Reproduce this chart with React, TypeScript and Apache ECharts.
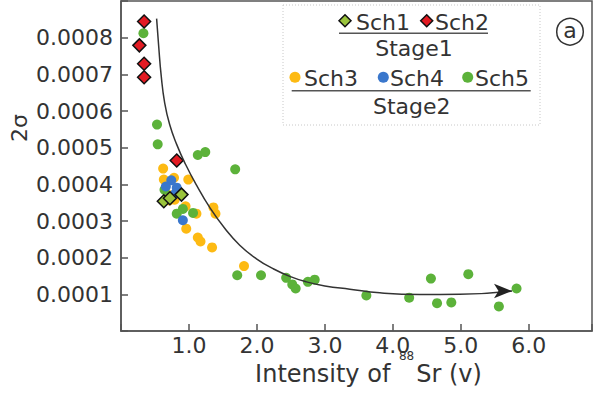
import React, { useEffect, useRef } from 'react';
import * as echarts from 'echarts';

const FONT = 'DejaVu Sans';
const TEXT = '#333';

// Stage 1
const sch1X = [0.63, 0.72, 0.89];
const sch1Y = [0.000354, 0.000362, 0.000372];
const sch2X = [0.34, 0.27, 0.34, 0.34, 0.82];
const sch2Y = [0.000844, 0.000779, 0.000729, 0.000692, 0.000465];

// Stage 2
const sch3X = [0.62, 0.63, 0.78, 0.99, 0.72, 0.79, 0.71, 0.95, 1.11, 1.36, 1.39, 0.96, 1.13, 1.17, 1.34, 1.81];
const sch3Y = [0.000443, 0.000413, 0.000418, 0.000413, 0.00037, 0.000358, 0.000356, 0.00034, 0.00032, 0.000337, 0.00032, 0.000279, 0.000255, 0.000244, 0.000228, 0.000177];
const sch4X = [0.74, 0.66, 0.82, 0.8, 0.91];
const sch4Y = [0.000411, 0.000394, 0.000391, 0.000375, 0.000302];
const sch5X = [0.33, 0.53, 0.54, 1.13, 1.24, 1.68, 0.64, 0.91, 0.82, 1.06, 1.71, 2.06, 2.43, 2.52, 2.57, 2.75, 2.85, 3.61, 4.24, 4.56, 4.65, 4.86, 5.11, 5.56, 5.82];
const sch5Y = [0.000812, 0.000563, 0.000509, 0.00048, 0.000488, 0.000441, 0.000385, 0.000333, 0.00032, 0.000322, 0.000152, 0.000152, 0.000145, 0.000127, 0.000116, 0.000134, 0.00014, 0.000097, 0.000091, 0.000143, 0.000076, 0.000078, 0.000155, 0.000067, 0.000116];

// Trend curve (hand-drawn arrow)
const curveX = [0.524, 0.554, 0.591, 0.642, 0.716, 0.819, 0.951, 1.113, 1.305, 1.526, 1.747, 1.993, 2.237, 2.483, 2.729, 2.999, 3.367, 3.809, 4.398, 4.987, 5.753];
const curveY = [0.000852, 0.000778, 0.000697, 0.000623, 0.000563, 0.000509, 0.000454, 0.000397, 0.000337, 0.00028, 0.000234, 0.000197, 0.00017, 0.000149, 0.000134, 0.000123, 0.000114, 0.000104, 0.0000995, 0.0001, 0.000109];

const xTickLabels = ['1.0', '2.0', '3.0', '4.0', '5.0', '6.0'];
const yTickLabels = ['0.0001', '0.0002', '0.0003', '0.0004', '0.0005', '0.0006', '0.0007', '0.0008'];

const C_YELLOW = '#FDBA13';
const C_BLUE = '#3A77CC';
const C_GREEN = '#5CB23A';
const C_RED = '#E31B23';
const C_LIME = '#9AC43C';

const zip = (xs: number[], ys: number[]) => xs.map((x, i) => [x, ys[i]]);

export default function App() {
  const ref = useRef<HTMLDivElement>(null);
  useEffect(() => {
    const chart = echarts.init(ref.current!, null, { renderer: 'svg' });
    const lastIdx = curveX.length - 1;
    const curveData = curveX.map((x, i) =>
      i === lastIdx
        ? { value: [x, curveY[i]], symbol: 'arrow', symbolSize: [11, 18], symbolRotate: -90, itemStyle: { color: '#222' } }
        : { value: [x, curveY[i]], symbol: 'none' }
    );
    const txt = (t: string, x: number, y: number, align: string = 'left') => ({
      type: 'text',
      x,
      y,
      style: { text: t, font: `22px "${FONT}"`, fill: TEXT, align, verticalAlign: 'middle' },
      z: 100,
    });
    const diamond = (cx: number, cy: number, color: string) => ({
      type: 'polygon',
      shape: { points: [[cx, cy - 6], [cx + 6, cy], [cx, cy + 6], [cx - 6, cy]] },
      style: { fill: color, stroke: '#111', lineWidth: 1.5 },
      z: 100,
    });
    const dot = (cx: number, cy: number, color: string) => ({
      type: 'circle',
      shape: { cx, cy, r: 5.5 },
      style: { fill: color },
      z: 100,
    });
    const option: any = {
      animation: false,
      backgroundColor: '#fff',
      grid: {
        left: 121,
        right: 1,
        top: 1,
        bottom: 64,
        containLabel: false,
        outerBoundsMode: 'none',
        show: true,
        borderColor: '#555',
        borderWidth: 1.5,
        backgroundColor: 'transparent',
      },
      xAxis: {
        type: 'value',
        min: 0,
        max: 6.93,
        interval: 1,
        splitLine: { show: false },
        axisLine: { show: true, lineStyle: { color: '#555', width: 1.5 } },
        axisTick: { show: true, inside: true, length: 7, lineStyle: { color: '#555', width: 1.5 } },
        axisLabel: {
          margin: 3,
          fontFamily: FONT,
          fontSize: 22,
          color: TEXT,
          formatter: (v: number) => {
            const i = Math.round(v) - 1;
            return Math.abs(v - Math.round(v)) < 1e-6 && i >= 0 && i < xTickLabels.length ? xTickLabels[i] : '';
          },
        },
        name: '{a|Intensity of }{s|88}{a|Sr (v)}',
        nameLocation: 'middle',
        nameGap: 19,
        nameMoveOverlap: false,
        nameTextStyle: {
          padding: [0, 0, 0, 24],
          rich: {
            a: { fontFamily: FONT, fontSize: 24, color: TEXT, verticalAlign: 'top', lineHeight: 40, padding: [12, 0, 0, 0] },
            s: { fontFamily: FONT, fontSize: 12, color: TEXT, verticalAlign: 'top', lineHeight: 14, padding: [0, 2, 0, 1] },
          },
        },
      },
      yAxis: {
        type: 'value',
        min: 0,
        max: 0.0009,
        interval: 0.0001,
        splitLine: { show: false },
        axisLine: { show: true, lineStyle: { color: '#555', width: 1.5 } },
        axisTick: { show: true, inside: true, length: 7, lineStyle: { color: '#555', width: 1.5 } },
        axisLabel: {
          margin: 8,
          fontFamily: FONT,
          fontSize: 22,
          color: TEXT,
          formatter: (v: number) => {
            const i = Math.round(v * 10000) - 1;
            return i >= 0 && i < yTickLabels.length ? yTickLabels[i] : '';
          },
        },
        name: '2σ',
        nameLocation: 'middle',
        nameRotate: 90,
        nameGap: 91,
        nameMoveOverlap: false,
        nameTextStyle: { fontFamily: FONT, fontSize: 22, color: TEXT, padding: [0, 0, 0, 76] },
      },
      series: [
        {
          name: 'Sch3',
          type: 'scatter',
          data: zip(sch3X, sch3Y),
          symbol: 'circle',
          symbolSize: 10,
          itemStyle: { color: C_YELLOW, opacity: 1 },
          z: 2,
        },
        {
          name: 'Sch5',
          type: 'scatter',
          data: zip(sch5X, sch5Y),
          symbol: 'circle',
          symbolSize: 10,
          itemStyle: { color: C_GREEN, opacity: 1 },
          z: 2,
        },
        {
          name: 'Sch4',
          type: 'scatter',
          data: zip(sch4X, sch4Y),
          symbol: 'circle',
          symbolSize: 10,
          itemStyle: { color: C_BLUE, opacity: 1 },
          z: 2,
        },
        {
          name: 'Sch1',
          type: 'scatter',
          data: zip(sch1X, sch1Y),
          symbol: 'diamond',
          symbolSize: 13,
          itemStyle: { color: C_LIME, borderColor: '#111', borderWidth: 1.5, opacity: 1 },
          z: 3,
        },
        {
          name: 'Sch2',
          type: 'scatter',
          data: zip(sch2X, sch2Y),
          symbol: 'diamond',
          symbolSize: 13,
          itemStyle: { color: C_RED, borderColor: '#111', borderWidth: 1.5, opacity: 1 },
          z: 3,
        },
        {
          name: 'trend',
          type: 'line',
          data: curveData,
          smooth: 0.5,
          showSymbol: true,
          symbol: 'none',
          lineStyle: { color: '#333', width: 1.5 },
          itemStyle: { color: '#222' },
          z: 4,
          silent: true,
        },
      ],
      graphic: [
        {
          type: 'rect',
          shape: { x: 283, y: 5, width: 257, height: 120 },
          style: { fill: 'none', stroke: '#c8c8c8', lineWidth: 1, lineDash: [1, 2] },
          z: 99,
        },
        diamond(345, 20.7, C_LIME),
        txt('Sch1', 356, 22),
        diamond(426.7, 20.7, C_RED),
        txt('Sch2', 435, 22),
        {
          type: 'line',
          shape: { x1: 339, y1: 33.3, x2: 488, y2: 33.3 },
          style: { stroke: '#555', lineWidth: 1.5 },
          z: 100,
        },
        txt('Stage1', 414, 48, 'center'),
        dot(295, 77.3, C_YELLOW),
        txt('Sch3', 304, 78),
        dot(383.3, 77.3, C_BLUE),
        txt('Sch4', 390, 78),
        dot(467.7, 77.3, C_GREEN),
        txt('Sch5', 475, 78),
        {
          type: 'line',
          shape: { x1: 291.7, y1: 90.7, x2: 530.7, y2: 90.7 },
          style: { stroke: '#555', lineWidth: 1.5 },
          z: 100,
        },
        txt('Stage2', 411.7, 106, 'center'),
        {
          type: 'circle',
          shape: { cx: 570, cy: 31.7, r: 13.3 },
          style: { fill: 'none', stroke: '#333', lineWidth: 1.5 },
          z: 100,
        },
        txt('a', 570, 30.5, 'center'),
      ],
    };
    chart.setOption(option);
    return () => chart.dispose();
  }, []);
  return (
    <div
      ref={ref}
      style={{ position: 'fixed', left: 0, top: 0, width: 593, height: 395, background: '#fff' }}
    />
  );
}
